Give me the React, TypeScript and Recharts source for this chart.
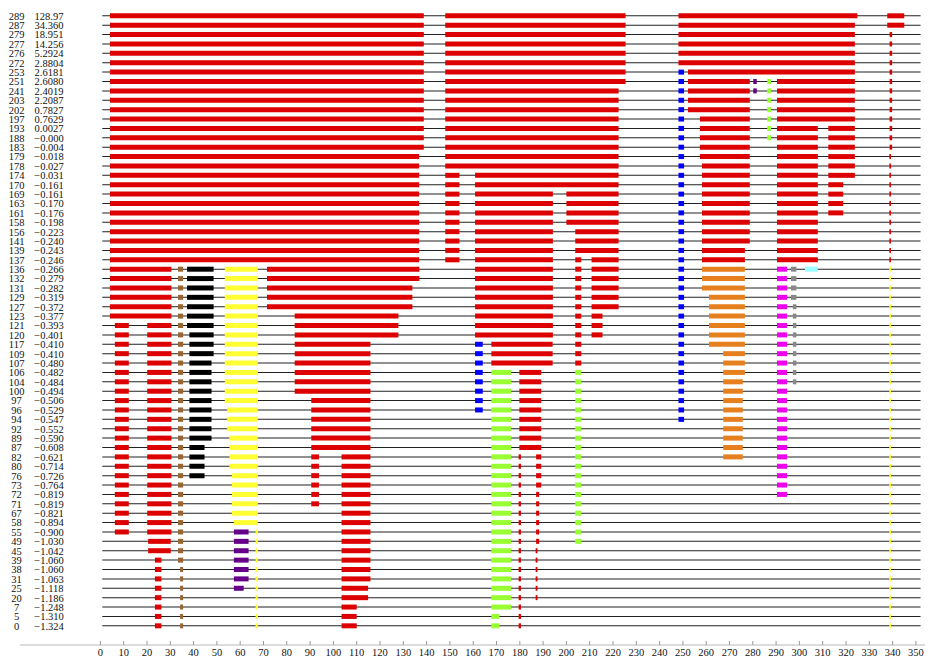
import { Bar, BarChart, Cell, XAxis, YAxis } from "recharts";

const rowIds = [
  289, 287, 279, 277, 276, 272, 253, 251, 241, 203, 202, 197, 193, 188, 183, 179, 178, 174, 170, 169, 163, 161,
  158, 156, 141, 139, 137, 136, 132, 131, 129, 127, 123, 121, 120, 117, 109, 107, 106, 104, 100, 97, 96, 94, 92,
  89, 87, 82, 80, 76, 73, 72, 71, 67, 58, 55, 49, 45, 39, 38, 31, 25, 20, 7, 5, 0,
];

const rowValues = [
  "128.97", "34.360", "18.951", "14.256", "5.2924", "2.8804", "2.6181", "2.6080", "2.4019", "2.2087", "0.7827",
  "0.7629", "0.0027", "−0.000", "−0.004", "−0.018", "−0.027", "−0.031", "−0.161", "−0.161", "−0.170", "−0.176",
  "−0.198", "−0.223", "−0.240", "−0.243", "−0.246", "−0.266", "−0.279", "−0.282", "−0.319", "−0.372", "−0.377",
  "−0.393", "−0.401", "−0.410", "−0.410", "−0.480", "−0.482", "−0.484", "−0.494", "−0.506", "−0.529", "−0.547",
  "−0.552", "−0.590", "−0.608", "−0.621", "−0.714", "−0.726", "−0.764", "−0.819", "−0.819", "−0.821", "−0.894",
  "−0.900", "−1.030", "−1.042", "−1.060", "−1.060", "−1.063", "−1.118", "−1.186", "−1.248", "−1.310", "−1.324",
];

const xTicks = [
  0, 10, 20, 30, 40, 50, 60, 70, 80, 90, 100, 110, 120, 130, 140, 150, 160, 170, 180, 190, 200, 210, 220, 230, 240,
  250, 260, 270, 280, 290, 300, 310, 320, 330, 340, 350,
];

// every row carries a thin rule across the whole range
const lineSpan: [number, number] = [0.8, 352];

// segments: [first row, last row, from, to]  (rows counted from the top, 0 = "289")
const redSegs = [
  [0, 14, 4.1, 138.8], [15, 26, 4.1, 136.8], [27, 32, 4.1, 30.5],
  [33, 55, 6.2, 12.2], [33, 55, 20.1, 30.5], [56, 57, 20.5, 30.2], [58, 65, 23.4, 26.2],
  [27, 28, 71.5, 136.9], [29, 31, 71.5, 133.9], [32, 34, 83.4, 127.9], [35, 40, 83.4, 115.9],
  [41, 46, 90.5, 115.9], [47, 52, 90.5, 93.8], [47, 60, 103.5, 115.9], [61, 62, 103.5, 114.9], [63, 65, 103.5, 110],
  [0, 7, 148, 225.4], [8, 16, 148, 222.4], [17, 26, 148, 154.1], [17, 18, 160.8, 222.4], [19, 34, 160.8, 194.2],
  [19, 22, 200, 222.4], [23, 25, 203.8, 222.4], [26, 37, 203.8, 206.4], [26, 31, 210.8, 222.4], [32, 34, 210.8, 215.5],
  [35, 37, 167.8, 194.1], [38, 46, 179.8, 189.2], [47, 65, 179.5, 180.5], [47, 50, 187, 189.2], [51, 56, 187, 188.3],
  [57, 62, 186.8, 187.6],
  [0, 0, 248.1, 324.9], [1, 5, 248.1, 323.8], [6, 6, 252.2, 323.8], [7, 10, 252.2, 278.7], [7, 11, 290.4, 323.8],
  [11, 15, 257.3, 278.7], [16, 24, 258.2, 278.7], [25, 26, 258.2, 276.6], [12, 26, 290.4, 307.9],
  [12, 17, 312.4, 323.8], [18, 21, 312.4, 318.8],
  [0, 1, 337.7, 345], [2, 14, 338.7, 339.8], [15, 26, 338.6, 339.3],
];
const brownSegs = [[27, 58, 33.3, 35.5], [59, 65, 34.2, 35.5]];
const blackSegs = [[27, 33, 37.2, 48.6], [34, 36, 38.2, 48.6], [37, 45, 38.2, 47.7], [46, 49, 38.2, 44.7]];
const yellowSegs = [
  [27, 41, 53.4, 67.6], [42, 44, 54.4, 67.6], [45, 48, 55.4, 67.6], [49, 53, 56.4, 67.6], [54, 54, 57.3, 67.6],
  [55, 65, 66.6, 67.6], [27, 65, 338.6, 339.3],
];
const purpleSegs = [[55, 60, 57.3, 63.6], [61, 61, 57.3, 61.5], [7, 8, 280.2, 281.7]];
const greenSegs = [[38, 63, 167.8, 176.3], [64, 65, 167.8, 171.3], [38, 56, 203.8, 206.4], [7, 13, 286.2, 287.8]];
const blueSegs = [[35, 42, 160.8, 164.1], [6, 43, 248.1, 250.5]];
const orangeSegs = [[27, 29, 258.2, 276.6], [30, 35, 261.2, 276.6], [36, 38, 267.3, 276.6], [39, 47, 267.3, 275.7]];
const magentaSegs = [[27, 51, 290.4, 294.7]];
const graySegs = [[27, 30, 296.4, 298.7], [31, 39, 297.2, 298.7]];
const cyanSegs = [[27, 27, 302.4, 307.9]];

const groups = [
  { color: "#dd0000", segs: redSegs },
  { color: "#996633", segs: brownSegs },
  { color: "#000000", segs: blackSegs },
  { color: "#ffff33", segs: yellowSegs },
  { color: "#660088", segs: purpleSegs },
  { color: "#99ff33", segs: greenSegs },
  { color: "#0000ff", segs: blueSegs },
  { color: "#e6801e", segs: orangeSegs },
  { color: "#ee00ee", segs: magentaSegs },
  { color: "#888888", segs: graySegs },
  { color: "#99ffff", segs: cyanSegs },
];

type Seg = { s: number; e: number; color: string };

const rows = rowIds.map((id, i) => {
  const segs: Seg[] = [];
  groups.forEach((g) => {
    g.segs.forEach(([a, b, s, e]) => {
      if (i >= a && i <= b) segs.push({ s, e, color: g.color });
    });
  });
  segs.sort((p, q) => p.s - q.s);
  return { id: String(id), segs, line: lineSpan };
});

const slotCount = Math.max(...rows.map((r) => r.segs.length));

const FONT = "'Liberation Serif', 'Times New Roman', serif";

const RowTick = (props: any) => {
  const { y, payload } = props;
  const i = rowIds.indexOf(Number(payload.value));
  return (
    <g fontFamily={FONT} fontSize={10.5} fill="#111">
      <text x={16.5} y={y} dy="0.35em" textAnchor="middle">
        {rowIds[i]}
      </text>
      <text x={49} y={y} dy="0.35em" textAnchor="middle">
        {rowValues[i]}
      </text>
    </g>
  );
};

const XTick = (props: any) => {
  const { x, y, payload } = props;
  return (
    <g>
      <line x1={x} x2={x} y1={y - 4} y2={y} stroke="#9a9a9a" />
      <text x={x} y={y + 11} textAnchor="middle" fontFamily={FONT} fontSize={10.5} fill="#111">
        {payload.value}
      </text>
    </g>
  );
};

export default function App() {
  return (
    <div style={{ position: "absolute", left: 0, top: 0, width: 930, height: 657, background: "#fff" }}>
      <BarChart
        width={930}
        height={657}
        data={rows}
        layout="vertical"
        barGap={-5}
        margin={{ top: 11.3, right: 5, bottom: 0, left: 0 }}
      >
        <XAxis
          type="number"
          domain={[-34.5, 353.9]}
          ticks={xTicks}
          interval={0}
          allowDataOverflow
          height={12}
          tickSize={0}
          tickMargin={0}
          tickLine={false}
          axisLine={{ stroke: "#b8b8b8" }}
          tick={<XTick />}
        />
        <YAxis
          type="category"
          dataKey="id"
          width={20}
          interval={0}
          axisLine={false}
          tickLine={false}
          tickSize={0}
          padding={{ top: 0, bottom: 14.3 }}
          tick={<RowTick />}
        />
        <YAxis yAxisId="lines" type="category" dataKey="id" hide padding={{ top: 0, bottom: 14.3 }} />
        <Bar yAxisId="lines" dataKey="line" barSize={1} fill="#222" isAnimationActive={false} />
        {Array.from({ length: slotCount }, (_, k) => (
          <Bar
            key={k}
            dataKey={(r: any) => (r.segs[k] ? [r.segs[k].s, r.segs[k].e] : null)}
            barSize={5}
            isAnimationActive={false}
          >
            {rows.map((r, i) => (
              <Cell key={i} fill={r.segs[k] ? r.segs[k].color : "none"} />
            ))}
          </Bar>
        ))}
      </BarChart>
    </div>
  );
}
